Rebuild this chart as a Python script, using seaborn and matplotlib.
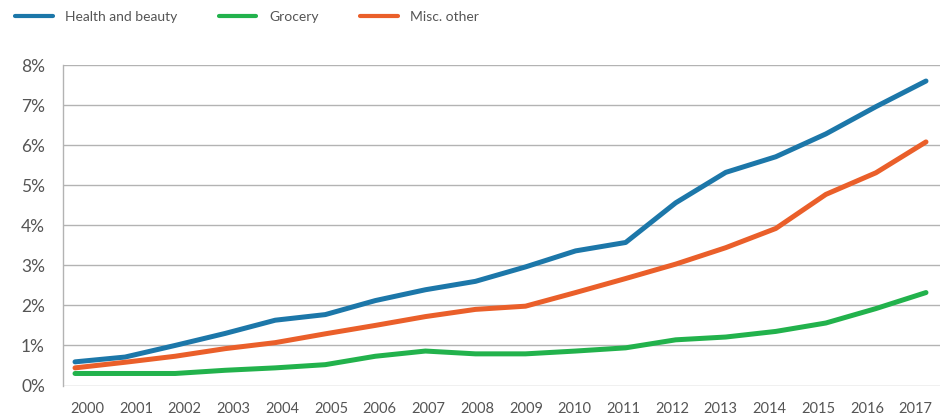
import numpy as np
import pandas as pd
import matplotlib
matplotlib.use("Agg")
import matplotlib.pyplot as plt
import seaborn as sns

years = list(range(2000, 2018))
health_beauty = [0.59, 0.71, 1.00, 1.30, 1.63, 1.77, 2.12, 2.39, 2.60, 2.96, 3.36, 3.57,
                 4.56, 5.32, 5.71, 6.28, 6.96, 7.60]
grocery = [0.30, 0.30, 0.30, 0.38, 0.44, 0.52, 0.73, 0.86, 0.79, 0.79, 0.86, 0.94,
           1.14, 1.21, 1.35, 1.56, 1.92, 2.32]
misc_other = [0.44, 0.58, 0.73, 0.92, 1.07, 1.29, 1.50, 1.72, 1.90, 1.98, 2.32, 2.67,
              3.03, 3.44, 3.92, 4.77, 5.31, 6.08]
series_names = ["Health and beauty", "Grocery", "Misc. other"]
colors = ["#1c77a9", "#22b24c", "#ea5f2a"]
y_ticks = [0, 1, 2, 3, 4, 5, 6, 7, 8]

df = pd.DataFrame({
    "year": years * 3,
    "share": health_beauty + grocery + misc_other,
    "series": [series_names[0]] * 18 + [series_names[1]] * 18 + [series_names[2]] * 18,
})

sns.set_style("white")
plt.rcParams["font.family"] = ["Lato", "DejaVu Sans"]

txt = "#555555"
grid_c = "#b3b3b3"

fig = plt.figure(figsize=(9.5, 4.2), dpi=100)
ax = fig.add_axes([63 / 950, 1 - 385.5 / 420, 877 / 950, 320.5 / 420])

sns.lineplot(data=df, x="year", y="share", hue="series", hue_order=series_names,
             palette=colors, linewidth=3.6, ax=ax, legend=False,
             solid_capstyle="round")

# x axis: boxes per year, tick marks at box edges, labels centred
x0, x1 = 1999.76, 2017.28
ax.set_xlim(x0, x1)
edges = np.linspace(x0, x1, 19)
centres = (edges[:-1] + edges[1:]) / 2
ax.set_xticks(edges[:-1])
ax.set_xticklabels([])
ax.set_xticks(centres, minor=True)
ax.set_xticklabels([str(y) for y in years], minor=True)
ax.tick_params(axis="x", which="major", length=8, width=1, color=grid_c, direction="out")
ax.tick_params(axis="x", which="minor", length=0, pad=12, labelsize=10.5, labelcolor=txt)

ax.set_ylim(0, 8)
ax.set_yticks(y_ticks)
ax.set_yticklabels([f"{v}%" for v in y_ticks])
ax.tick_params(axis="y", length=5, width=1, color=grid_c, direction="out", pad=8,
               labelsize=12.5, labelcolor=txt)
ax.grid(axis="y", color=grid_c, linewidth=1)
ax.set_axisbelow(True)

for s in ["top", "right", "bottom"]:
    ax.spines[s].set_visible(False)
ax.spines["left"].set_color(grid_c)
ax.spines["left"].set_linewidth(1)
ax.set_xlabel("")
ax.set_ylabel("")

handles = [plt.Line2D([], [], color=c, linewidth=3) for c in colors]
fig.legend(handles, series_names, loc="center left", bbox_to_anchor=(15 / 950, 1 - 17 / 420),
           ncol=3, frameon=False, fontsize=10, labelcolor=txt, handlelength=2.7,
           handletextpad=0.9, columnspacing=3.0, borderpad=0, borderaxespad=0)

fig.savefig("out.png", dpi=100)
